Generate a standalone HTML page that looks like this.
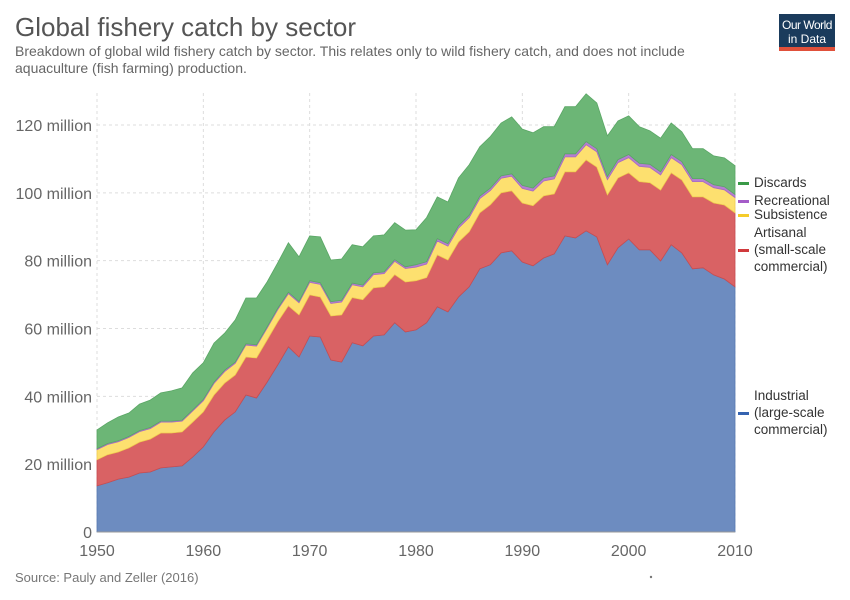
<!DOCTYPE html>
<html><head><meta charset="utf-8"><style>
body{margin:0;background:#fff;font-family:"Liberation Sans",sans-serif}
#wrap{position:relative;width:850px;height:600px;overflow:hidden}
</style></head><body>
<div id="wrap">
<svg id="chart" width="850" height="600" xmlns="http://www.w3.org/2000/svg">
<text x="15" y="36" font-size="26" fill="#555">Global fishery catch by sector</text>
<text x="15" y="56" font-size="14" fill="#666">Breakdown of global wild fishery catch by sector. This relates only to wild fishery catch, and does not include</text>
<text x="15" y="73" font-size="14" fill="#666">aquaculture (fish farming) production.</text>
<g>
<rect x="779" y="14" width="56" height="37" fill="#1a3b5c"/>
<rect x="779" y="47" width="56" height="4" fill="#e0503a"/>
<text x="807" y="29" font-size="12" fill="#fff" text-anchor="middle" letter-spacing="-0.5">Our World</text>
<text x="807" y="43" font-size="12" fill="#fff" text-anchor="middle">in Data</text>
</g>
<g id="grid"></g>
<g id="areas"></g>
<g id="axes"></g>
<g id="legend"></g>
<text x="15" y="582" font-size="13" fill="#777">Source: Pauly and Zeller (2016)</text>
<circle cx="651" cy="577" r="1.2" fill="#777"/>
</svg>
</div>
<script>
const years=[];for(let y=1950;y<=2010;y++)years.push(y);
const industrial=[13.6,14.5,15.6,16.2,17.4,17.7,18.9,19.2,19.5,22.1,25.1,29.5,33.0,35.4,40.4,39.5,44.2,49.3,54.6,51.6,57.8,57.5,50.7,50.1,55.8,54.9,57.8,58.1,61.7,59.0,59.6,61.7,66.4,64.9,69.3,72.3,77.6,78.8,82.3,82.9,79.6,78.5,80.8,82.0,87.3,86.7,88.8,87.0,78.8,83.8,86.4,83.2,83.2,79.9,84.7,82.3,77.6,77.9,75.8,74.6,72.3];
const artisanal=[7.7,8.3,8.0,8.6,9.1,9.7,10.3,10.0,10.0,10.3,10.3,10.9,10.9,10.9,11.2,11.8,12.4,12.7,12.1,12.4,12.1,11.8,13.0,13.9,13.3,13.6,14.2,14.2,14.2,14.7,14.5,13.3,15.3,15.3,16.2,16.2,16.5,17.7,17.7,17.7,17.4,17.7,18.3,17.7,18.9,19.5,20.9,20.6,20.6,20.6,19.5,20.1,19.8,20.9,21.2,21.5,21.2,20.9,21.2,21.8,21.8];
const subsistence=[3.0,3.0,3.0,3.1,3.1,3.1,3.2,3.2,3.2,3.3,3.3,3.4,3.4,3.4,3.5,3.5,3.5,3.6,3.6,3.6,3.7,3.7,3.7,3.8,3.8,3.8,3.9,3.9,3.9,4.0,4.0,4.0,4.1,4.1,4.1,4.2,4.2,4.2,4.3,4.3,4.3,4.3,4.4,4.4,4.4,4.4,4.5,4.5,4.5,4.5,4.5,4.5,4.5,4.5,4.5,4.5,4.5,4.5,4.5,4.5,4.5];
const recreational=[0.3,0.3,0.3,0.3,0.3,0.3,0.3,0.3,0.3,0.3,0.4,0.4,0.4,0.4,0.4,0.4,0.4,0.4,0.4,0.4,0.5,0.5,0.5,0.5,0.5,0.5,0.5,0.5,0.5,0.5,0.7,0.7,0.7,0.7,0.7,0.7,0.7,0.7,0.7,0.7,0.9,0.9,0.9,0.9,0.9,0.9,0.9,0.9,0.9,0.9,0.9,0.9,0.9,0.9,0.9,0.9,0.9,0.9,0.9,0.9,0.9];
const discards=[5.5,6.1,7.0,6.9,7.8,8.1,8.3,8.9,9.5,10.9,10.8,11.5,10.9,12.4,13.5,13.8,13.2,13.4,14.6,13.1,13.2,13.5,12.3,12.2,11.3,11.3,10.9,10.9,10.9,10.8,10.3,13.0,12.3,12.3,14.1,14.9,14.6,15.2,15.6,16.8,16.6,16.3,15.1,14.5,13.9,13.9,14.1,13.5,12.0,11.4,11.4,10.8,9.9,9.9,9.3,8.8,8.8,8.8,8.5,8.5,8.5];
const yTicks=[0,20,40,60,80,100,120];
const yTickLabels=["0","20 million","40 million","60 million","80 million","100 million","120 million"];
const xTicks=[1950,1960,1970,1980,1990,2000,2010];

const NS="http://www.w3.org/2000/svg";
const X0=97,X1=735,Y0=532,Ytop=93;
const xs=y=>X0+(y-1950)/(2010-1950)*(X1-X0);
const ys=v=>Y0-v*(Y0-125)/120;
function mk(tag,attrs,parent){const e=document.createElementNS(NS,tag);for(const k in attrs)e.setAttribute(k,attrs[k]);parent.appendChild(e);return e;}
const grid=document.getElementById('grid'),axes=document.getElementById('axes'),areas=document.getElementById('areas'),legend=document.getElementById('legend');
yTicks.forEach((t,i)=>{
 if(t>0){const l=mk('line',{x1:X0,x2:X1,y1:ys(t),y2:ys(t),stroke:'#ddd','stroke-dasharray':'3,3'},grid);
 
 }
 const tx=mk('text',{x:92,y:ys(t)+6,'font-size':16,fill:'#666','text-anchor':'end'},axes);tx.textContent=yTickLabels[i];
 
 
});
xTicks.forEach(t=>{
 const l=mk('line',{x1:xs(t),x2:xs(t),y1:Ytop,y2:Y0,stroke:'#ddd','stroke-dasharray':'3,3'},grid);
 
 
 const tx=mk('text',{x:xs(t),y:556,'font-size':16,fill:'#666','text-anchor':'middle'},axes);tx.textContent=t;
 
 
});
const series=[
 {name:'industrial',data:industrial,fill:'#6d8cc0',stroke:'#5778b0'},
 {name:'artisanal',data:artisanal,fill:'#d96264',stroke:'#c84c50'},
 {name:'subsistence',data:subsistence,fill:'#fde06f',stroke:'#f0cc50'},
 {name:'recreational',data:recreational,fill:'#b57fd0',stroke:'#a66cc4'},
 {name:'discards',data:discards,fill:'#6cb676',stroke:'#5aa665'}
];
let base=years.map(()=>0);
series.forEach(s=>{
 const top=base.map((b,i)=>b+s.data[i]);
 let d='M'+years.map((y,i)=>xs(y).toFixed(1)+','+ys(top[i]).toFixed(1)).join('L');
 for(let i=years.length-1;i>=0;i--)d+='L'+xs(years[i]).toFixed(1)+','+ys(base[i]).toFixed(1);
 d+='Z';
 const p=mk('path',{d:d,fill:s.fill,stroke:s.stroke,'stroke-width':0.8},areas);
 
 
 base=top;
});
mk('line',{x1:X0,x2:X1,y1:Y0,y2:Y0,stroke:'#999'},axes);
const leg=[
 {lines:['Discards'],y:187,c:'#3a9a48'},
 {lines:['Recreational'],y:205,c:'#a45cc8'},
 {lines:['Subsistence'],y:219,c:'#f5cc2a'},
 {lines:['Artisanal','(small-scale','commercial)'],y:237,c:'#d0393c'},
 {lines:['Industrial','(large-scale','commercial)'],y:400,c:'#3563b0'}
];
leg.forEach(L=>{
 const g=mk('g',{},legend);
 
 
 mk('rect',{x:738,y:L.y+(L.lines.length>1?17:0)-5,width:11,height:3,fill:L.c},g);
 L.lines.forEach((t,i)=>{const tx=mk('text',{x:754,y:L.y+i*17,'font-size':13.5,fill:'#333'},g);tx.textContent=t;});
});
</script>
</body></html>
